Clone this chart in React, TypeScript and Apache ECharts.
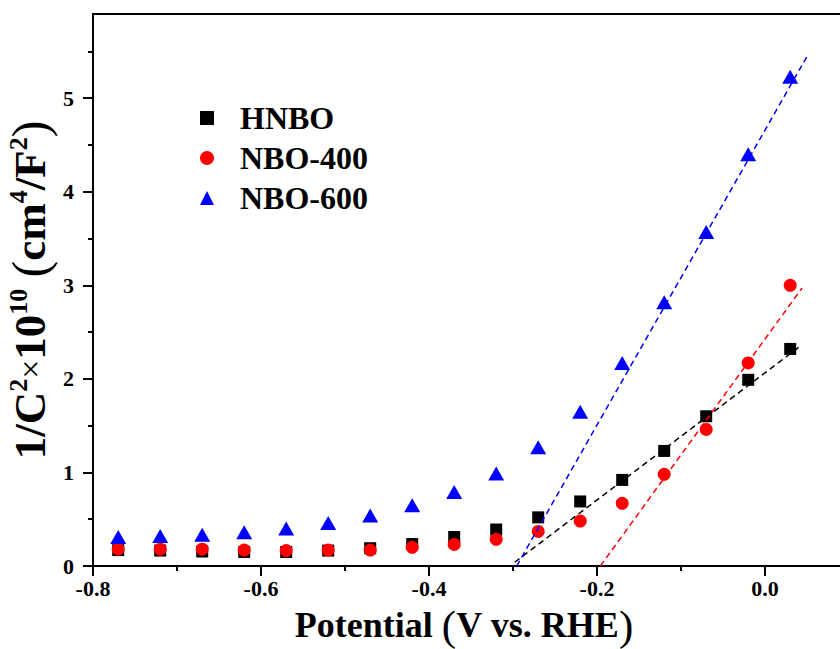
import React, { useEffect, useRef } from "react";
import * as echarts from "echarts";

const potential = [-0.77, -0.72, -0.67, -0.62, -0.57, -0.52, -0.47, -0.42, -0.37, -0.32, -0.27, -0.22, -0.17, -0.12, -0.07, -0.02, 0.03];
const hnbo = [0.17, 0.165, 0.155, 0.15, 0.15, 0.165, 0.19, 0.235, 0.31, 0.39, 0.52, 0.69, 0.92, 1.23, 1.6, 1.99, 2.32];
const nbo400 = [0.18, 0.18, 0.18, 0.17, 0.165, 0.17, 0.17, 0.2, 0.23, 0.285, 0.37, 0.48, 0.67, 0.98, 1.46, 2.17, 3.0];
const nbo600 = [0.31, 0.32, 0.335, 0.36, 0.4, 0.46, 0.54, 0.65, 0.79, 0.99, 1.27, 1.65, 2.17, 2.82, 3.57, 4.4, 5.23];

const hnboFitX = [-0.298, 0.042];
const hnboFitY = [0.04, 2.35];
const nbo400FitX = [-0.196, 0.044];
const nbo400FitY = [0, 2.97];
const nbo600FitX = [-0.2956, 0.0496];
const nbo600FitY = [0, 5.44];

const xMajor = [-0.8, -0.6, -0.4, -0.2, 0.0];
const xMinor = [-0.7, -0.5, -0.3, -0.1];
const yMajor = [0, 1, 2, 3, 4, 5];
const yMinor = [0.5, 1.5, 2.5, 3.5, 4.5, 5.5];

const FONT = "Liberation Serif";

const pair = (xs: number[], ys: number[]) => xs.map((x, i) => [x, ys[i]]);

export default function App() {
  const ref = useRef<HTMLDivElement>(null);
  useEffect(() => {
    if (!ref.current) return;
    const chart = echarts.init(ref.current, null, { renderer: "svg" });
    const axisLine = { onZero: false, lineStyle: { color: "#000", width: 2 } };
    const labelStyle = { fontFamily: FONT, fontWeight: "bold" as const, fontSize: 22, color: "#000" };
    chart.setOption({
      animation: false,
      backgroundColor: "#fff",
      grid: {
        left: 93, right: -9, top: 14, bottom: 83, show: true, borderColor: "#000", borderWidth: 2,
        containLabel: false, outerBoundsMode: "none",
      },
      legend: {
        orient: "vertical",
        left: 195,
        top: 97,
        itemWidth: 14,
        itemHeight: 14,
        itemGap: 8,
        data: ["HNBO", "NBO-400", "NBO-600"],
        textStyle: { fontFamily: FONT, fontWeight: "bold", fontSize: 32, color: "#000", lineHeight: 32, padding: [0, 0, 0, 21] },
      },
      xAxis: [
        {
          type: "value", min: -0.8, max: 0.1, position: "bottom",
          axisLine, splitLine: { show: false },
          axisTick: { customValues: xMajor, length: 10, lineStyle: { width: 2, color: "#000" } },
          axisLabel: { customValues: xMajor, formatter: (v: number) => v.toFixed(1), margin: 11, ...labelStyle },
          name: "Potential {p|(}V vs. RHE{p|)}",
          nameLocation: "middle",
          nameGap: 38,
          nameTextStyle: {
            fontFamily: FONT, fontWeight: "bold", fontSize: 36, color: "#000", lineHeight: 36, padding: [0, 14, 0, 0],
            rich: { p: { fontFamily: FONT, fontSize: 43, lineHeight: 36, fontWeight: "normal", color: "#000" } },
          },
        },
        {
          type: "value", min: -0.8, max: 0.1, position: "bottom",
          axisLine: { show: false, onZero: false }, splitLine: { show: false },
          axisTick: { customValues: xMinor, length: 5, lineStyle: { width: 2, color: "#000" } },
          axisLabel: { show: false },
        },
      ],
      yAxis: [
        {
          type: "value", min: 0, max: 5.9, position: "left",
          axisLine, splitLine: { show: false },
          axisTick: { customValues: yMajor, length: 10, lineStyle: { width: 2, color: "#000" } },
          axisLabel: { customValues: yMajor, margin: 19, ...labelStyle },
          name: "{b|1/C}{s|2}{x|×}{b|10}{s|10}{b| }{p|(}{b|cm}{s|4}{b|/F}{s|2}{p|)}",
          nameLocation: "middle",
          nameRotate: 90,
          nameGap: 38,
          nameMoveOverlap: false,
          nameTextStyle: {
            fontFamily: FONT, fontWeight: "bold", fontSize: 45, color: "#000",
            rich: {
              b: { fontFamily: FONT, fontWeight: "bold", fontSize: 45, color: "#000" },
              x: { fontFamily: FONT, fontWeight: "normal", fontSize: 34, color: "#000" },
              s: { fontFamily: FONT, fontWeight: "bold", fontSize: 26, color: "#000", verticalAlign: "top" },
              p: { fontFamily: FONT, fontWeight: "normal", fontSize: 50, color: "#000" },
            },
          },
        },
        {
          type: "value", min: 0, max: 5.9, position: "left",
          axisLine: { show: false, onZero: false }, splitLine: { show: false },
          axisTick: { customValues: yMinor, length: 5, lineStyle: { width: 2, color: "#000" } },
          axisLabel: { show: false },
        },
      ],
      series: [
        { name: "HNBO", type: "scatter", symbol: "rect", symbolSize: 12, itemStyle: { color: "#000", opacity: 1 }, data: pair(potential, hnbo), z: 2 },
        { name: "NBO-400", type: "scatter", symbol: "circle", symbolSize: 13, itemStyle: { color: "#ff0000", opacity: 1 }, data: pair(potential, nbo400), z: 2 },
        { name: "NBO-600", type: "scatter", symbol: "triangle", symbolSize: [16, 14], itemStyle: { color: "#0000ff", opacity: 1 }, data: pair(potential, nbo600), z: 2 },
        { name: "fitH", type: "line", showSymbol: false, symbol: "none", lineStyle: { color: "#000", width: 1.5, type: [6, 4] }, data: pair(hnboFitX, hnboFitY), z: 3 },
        { name: "fit400", type: "line", showSymbol: false, symbol: "none", lineStyle: { color: "#ff0000", width: 1.5, type: [6, 4] }, data: pair(nbo400FitX, nbo400FitY), z: 3 },
        { name: "fit600", type: "line", showSymbol: false, symbol: "none", lineStyle: { color: "#0000ff", width: 1.5, type: [6, 4] }, data: pair(nbo600FitX, nbo600FitY), z: 3 },
      ],
    });
    return () => chart.dispose();
  }, []);
  return <div ref={ref} style={{ position: "fixed", left: 0, top: 0, width: 840, height: 649 }} />;
}
